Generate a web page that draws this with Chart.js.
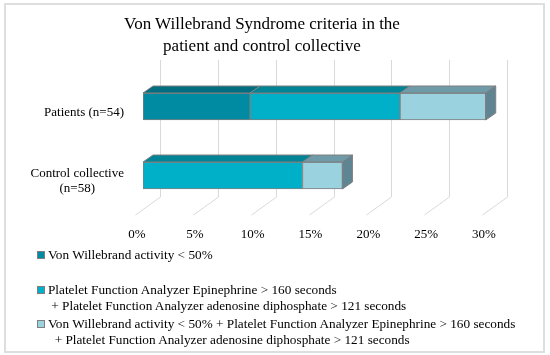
<!DOCTYPE html>
<html>
<head>
<meta charset="utf-8">
<script src="https://cdn.jsdelivr.net/npm/chart.js@4/dist/chart.umd.min.js"></script>
<style>
  body { margin: 0; background: #fff; }
  #wrap { position: relative; width: 550px; height: 355px; font-family: 'Liberation Serif', serif; color: #000; }
  #frame { position: absolute; left: 4px; top: 3px; width: 537px; height: 346px; border: 2px solid #dedede; }
  #chart { position: absolute; left: 0; top: 0; }
  #title { position: absolute; left: 62px; width: 400px; top: 13px; text-align: center; font-size: 17px; line-height: 22px; }
  .item { position: absolute; left: 37px; font-size: 13.25px; line-height: 15.5px; }
  .item i { position: absolute; left: 0; top: 4px; width: 6px; height: 6px; border: 1px solid #7f7f7f; }
  .item div { padding-left: 11px; white-space: nowrap; }
</style>
</head>
<body>
<div id="wrap">
  <div id="frame"></div>
  <canvas id="chart" width="550" height="355"></canvas>
  <div id="title">Von Willebrand Syndrome criteria in the<br>patient and control collective</div>
  <div id="legend"></div>
</div>
<script>
// categories and tick labels
const groups = ['Patients (n=54)', ['Control collective', '(n=58)']];
const tickStep = 5;
const tickMax = 30;

// share of each group in percent (counts 5/7/4 of 54, 0/8/2 of 58)
const vwfActivity = [9.26, 0];
const pfaOnly = [12.96, 13.79];
const vwfAndPfa = [7.41, 3.45];

const seriesNames = [
  ['Von Willebrand activity < 50%'],
  ['Platelet Function Analyzer Epinephrine > 160 seconds', ' + Platelet Function Analyzer adenosine diphosphate > 121 seconds'],
  ['Von Willebrand activity < 50% + Platelet Function Analyzer Epinephrine > 160 seconds', '  + Platelet Function Analyzer adenosine diphosphate > 121 seconds']
];

const frontColors = ['#008ba3', '#00b0c9', '#9bd2df'];
const topColors = ['#006e80', '#008496', '#6f9aa8'];
const sideColor = '#5f8593';
const edge = '#7f7f7f';

const ctx = document.getElementById('chart').getContext('2d');

// back wall grid + floor lines
const backGrid = {
  id: 'backGrid',
  beforeDatasetsDraw(chart) {
    const c = chart.ctx, xs = chart.scales.x, a = chart.chartArea;
    c.save();
    c.strokeStyle = '#d9d9d9';
    c.lineWidth = 1;
    xs.ticks.forEach(t => {
      const px = Math.round(xs.getPixelForValue(t.value)) + 0.5;
      c.beginPath();
      c.moveTo(px + 17, a.top - 12);
      c.lineTo(px + 17, a.bottom - 13);
      c.lineTo(px - 8, a.bottom + 5);
      c.stroke();
    });
    c.restore();
  }
};

// top and right faces of the bars
const bars3d = {
  id: 'bars3d',
  afterDatasetsDraw(chart) {
    const c = chart.ctx, dx = 10, dy = -7;
    const sets = chart.data.datasets;
    c.save();
    c.strokeStyle = edge;
    c.lineWidth = 1;
    groups.forEach((g, i) => {
      let last = -1;
      sets.forEach((ds, d) => { if (ds.data[i]) last = d; });
      sets.forEach((ds, d) => {
        if (!ds.data[i]) return;
        const el = chart.getDatasetMeta(d).data[i];
        const p = el.getProps(['x', 'y', 'base', 'height'], true);
        const l = Math.min(p.x, p.base), r = Math.max(p.x, p.base);
        const t = p.y - p.height / 2, b = p.y + p.height / 2;
        c.fillStyle = topColors[d];
        c.beginPath();
        c.moveTo(l, t); c.lineTo(r, t); c.lineTo(r + dx, t + dy); c.lineTo(l + dx, t + dy);
        c.closePath(); c.fill(); c.stroke();
        if (d === last) {
          c.fillStyle = sideColor;
          c.beginPath();
          c.moveTo(r, t); c.lineTo(r + dx, t + dy); c.lineTo(r + dx, b + dy); c.lineTo(r, b);
          c.closePath(); c.fill(); c.stroke();
        }
      });
    });
    c.restore();
  }
};

// category labels, lines centred inside a right aligned block
const groupLabels = {
  id: 'groupLabels',
  afterDraw(chart) {
    const c = chart.ctx, ys = chart.scales.y;
    c.save();
    c.font = '13px "Liberation Serif", serif';
    c.fillStyle = '#000';
    c.textAlign = 'center';
    c.textBaseline = 'middle';
    groups.forEach((g, i) => {
      const lines = [].concat(g);
      const w = Math.max(...lines.map(s => c.measureText(s).width));
      const cx = 124 - w / 2;
      const cy = ys.getPixelForValue(i) + 6 - (lines.length - 1) * 7.5;
      lines.forEach((s, k) => c.fillText(s, cx, cy + k * 15));
    });
    c.restore();
  }
};

new Chart(ctx, {
  type: 'bar',
  data: {
    labels: groups,
    datasets: [vwfActivity, pfaOnly, vwfAndPfa].map((vals, d) => ({
      label: seriesNames[d].join(' '),
      data: vals.map(v => v || null),
      backgroundColor: frontColors[d],
      borderColor: edge,
      borderWidth: 1,
      borderSkipped: false,
      barThickness: 27
    }))
  },
  options: {
    indexAxis: 'y',
    responsive: false,
    animation: false,
    devicePixelRatio: 1,
    layout: { padding: { top: 72, left: 0, right: 60, bottom: 115 } },
    plugins: { legend: { display: false }, title: { display: false }, tooltip: { enabled: false } },
    scales: {
      x: {
        stacked: true,
        min: 0,
        max: tickMax,
        grid: { display: false, drawTicks: false },
        border: { display: false },
        afterFit(s) { s.height = 30; },
        ticks: {
          stepSize: tickStep,
          labelOffset: -6,
          padding: 17,
          color: '#000',
          font: { family: 'Liberation Serif', size: 13 },
          callback: v => v + '%'
        }
      },
      y: {
        stacked: true,
        grid: { display: false, drawTicks: false },
        border: { display: false },
        afterFit(s) { s.width = 143; },
        ticks: { display: false }
      }
    }
  },
  plugins: [backGrid, bars3d, groupLabels]
});

// legend
const legendTops = [247, 282, 316];
const legend = document.getElementById('legend');
seriesNames.forEach((lines, d) => {
  const item = document.createElement('div');
  item.className = 'item';
  item.style.top = legendTops[d] + 'px';
  const box = document.createElement('i');
  box.style.background = frontColors[d];
  item.appendChild(box);
  lines.forEach(s => {
    const row = document.createElement('div');
    row.textContent = s;
    row.style.whiteSpace = 'pre';
    item.appendChild(row);
  });
  legend.appendChild(item);
});
</script>
</body>
</html>
